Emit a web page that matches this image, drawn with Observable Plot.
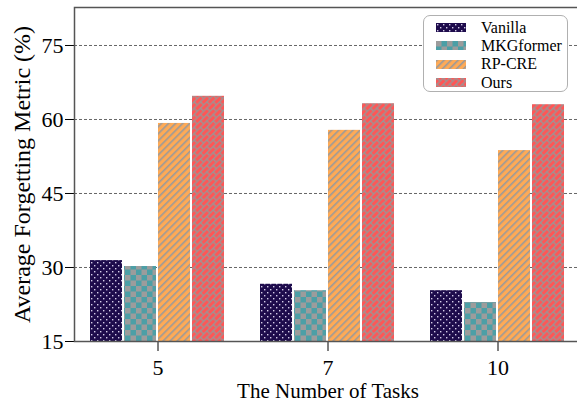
<!DOCTYPE html>
<html><head><meta charset="utf-8">
<script src="https://cdn.jsdelivr.net/npm/d3@7"></script>
<script src="https://cdn.jsdelivr.net/npm/@observablehq/plot@0.6"></script>
<style>
html,body{margin:0;padding:0;overflow:hidden;background:#fff}
#wrap{position:relative;width:577px;height:403px;overflow:hidden}
#wrap svg{max-width:none !important}
#back,#front,#frm{position:absolute;left:0;top:0}
#frm{pointer-events:none}
#legend{position:absolute;left:423px;top:15px;width:145px;height:77px;border:1px solid #b0b0b0;border-radius:7px;background:#fff;box-sizing:border-box;font-family:"Liberation Serif",serif;font-size:16px;color:#000}
.row{position:absolute;left:0;height:18px;display:flex;align-items:center}
.row svg{margin-left:12px;margin-right:15px}
</style></head>
<body>
<svg width="0" height="0" style="position:absolute">
<defs>
<pattern id="p-vanilla" width="6" height="6" patternUnits="userSpaceOnUse">
<rect width="6" height="6" fill="#1e0c4c"/>
<rect x="1" y="1" width="1.4" height="1.4" fill="#d4cce8"/>
<rect x="4" y="4" width="1.4" height="1.4" fill="#d4cce8"/>
</pattern>
<pattern id="p-mkg" width="11" height="11" patternUnits="userSpaceOnUse">
<rect width="11" height="11" fill="#4c9fa6"/>
<rect width="5.5" height="5.5" fill="#9c9c9c"/>
<rect x="5.5" y="5.5" width="5.5" height="5.5" fill="#9c9c9c"/>
</pattern>
<pattern id="p-rp" width="5" height="5" patternUnits="userSpaceOnUse" patternTransform="rotate(-45)">
<rect width="5" height="5" fill="#ffaa55"/>
<rect width="5" height="1.6" fill="#9a9a9a"/>
</pattern>
<pattern id="p-ours" width="9" height="9" patternUnits="userSpaceOnUse" patternTransform="rotate(-45)">
<rect width="9" height="9" fill="#ff5656"/>
<rect width="9" height="1.3" fill="#979797"/>
<rect y="4.5" width="9" height="1.3" fill="#979797"/>
<rect x="0" y="0" width="1.3" height="4.5" fill="#979797"/>
<rect x="4.5" y="4.5" width="1.3" height="4.5" fill="#979797"/>
</pattern>
</defs>
</svg>
<div id="wrap"><div id="back"></div><div id="front"></div><div id="frm"></div><div id="legend"></div></div>
<script>
const tasks = ["5", "7", "10"];
const methods = ["Vanilla", "MKGformer", "RP-CRE", "Ours"];
const vanilla = [31.4, 26.6, 25.3];
const mkgformer = [30.2, 25.3, 22.9];
const rpcre = [59.2, 57.8, 53.7];
const ours = [64.7, 63.2, 63.0];
const yTicks = [15, 30, 45, 60, 75];
const xLabel = "The Number of Tasks";
const yLabel = "Average Forgetting Metric (%)";

const series = [vanilla, mkgformer, rpcre, ours];
const fills = ["url(#p-vanilla)", "url(#p-mkg)", "url(#p-rp)", "url(#p-ours)"];
const data = tasks.flatMap((t, i) => methods.map((m, j) => ({tasks: t, method: m, value: series[j][i]})));

const common = {
  width: 581, height: 403,
  marginLeft: 74, marginRight: 0, marginTop: 7, marginBottom: 62,
  y: {domain: [15, 82.7], axis: null}
};
const font = '"Liberation Serif", serif';

const back = Plot.plot({
  ...common,
  style: {fontFamily: font, fontSize: "22px", color: "#000", background: "#fff", maxWidth: "none"},
  marks: [
    Plot.ruleY(yTicks.slice(1), {stroke: "#555", strokeDasharray: "3,2", strokeWidth: 0.9}),
    Plot.axisY({ticks: yTicks, tickSize: 9, tickPadding: 2, fontSize: 22, label: null}),
    Plot.text([yLabel], {frameAnchor: "left", dx: -62, rotate: -90, fontSize: 24, lineAnchor: "top", textAnchor: "middle"}),
    Plot.text([xLabel], {frameAnchor: "bottom", dy: 42, fontSize: 21, lineAnchor: "top", textAnchor: "middle"})
  ]
});
document.getElementById("back").appendChild(back);

const front = Plot.plot({
  ...common,
  style: {fontFamily: font, fontSize: "22px", color: "#000", background: "transparent", maxWidth: "none"},
  fx: {domain: tasks, paddingInner: 0.194, paddingOuter: 0.088, axis: null},
  x: {domain: methods, paddingInner: 0.05, paddingOuter: 0, axis: null},
  color: {domain: methods, range: fills},
  marks: [
    Plot.barY(data, {fx: "tasks", x: "method", y: "value", fill: "method", clip: true}),
    Plot.axisFx({anchor: "bottom", tickSize: 10, tickPadding: 8, fontSize: 22, label: null})
  ]
});
document.getElementById("front").appendChild(front);

const frame = Plot.plot({
  ...common,
  style: {background: "transparent", maxWidth: "none"},
  marks: [Plot.frame({stroke: "#555", strokeWidth: 1.5})]
});
document.getElementById("frm").appendChild(frame);

const legend = document.getElementById("legend");
methods.forEach((m, i) => {
  const row = document.createElement("div");
  row.className = "row";
  row.style.top = (2.5 + i * 18.4) + "px";
  row.innerHTML = `<svg width="30" height="9"><rect width="30" height="9" fill="${fills[i]}"/></svg><span>${m}</span>`;
  legend.appendChild(row);
});
</script>
</body></html>
